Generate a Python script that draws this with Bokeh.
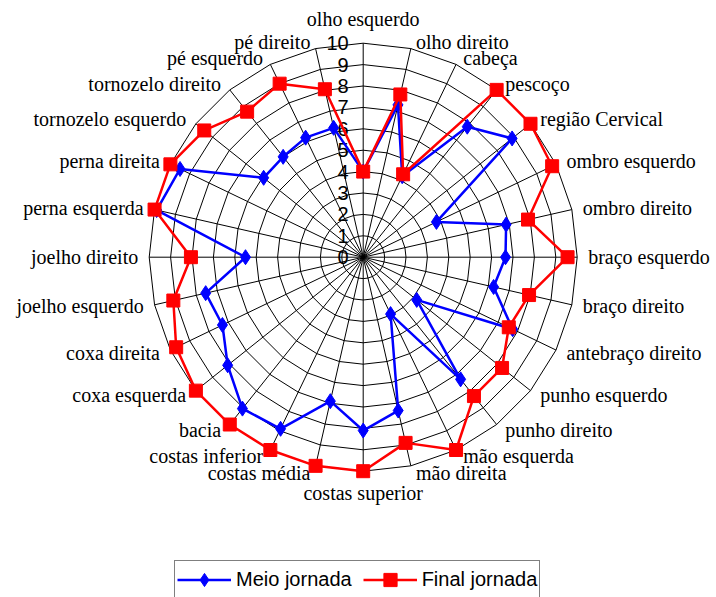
import numpy as np
from bokeh.plotting import figure
from bokeh.models import ColumnDataSource, Legend, LegendItem, Range1d
from bokeh.embed import file_html
from bokeh.resources import INLINE
from bokeh.core.properties import value

categories = ["olho esquerdo", "olho direito", "cabeça", "pescoço", "região Cervical",
              "ombro esquerdo", "ombro direito", "braço esquerdo", "braço direito",
              "antebraço direito", "punho esquerdo", "punho direito", "mão esquerda",
              "mão direita", "costas superior", "costas média", "costas inferior", "bacia",
              "coxa esquerda", "coxa direita", "joelho esquerdo", "joelho direito",
              "perna esquerda", "perna direita", "tornozelo esquerdo", "tornozelo direito",
              "pé esquerdo", "pé direito"]
meio_jornada = [4.0, 7.3, 4.2, 7.8, 8.9, 3.8, 6.85, 6.65, 6.25, 7.75, 3.2, 7.3, 2.95, 7.35,
                8.1, 6.9, 8.9, 9.05, 8.1, 7.3, 7.55, 5.5, 9.9, 9.5, 5.95, 6.0, 6.2, 6.2]
final_jornada = [4.0, 7.8, 4.3, 10.0, 10.0, 9.8, 7.9, 9.55, 7.95, 7.55, 8.3, 8.3, 10.0, 8.9,
                 10.0, 10.0, 10.0, 10.0, 10.0, 9.7, 9.1, 8.05, 10.0, 10.0, 9.5, 8.7, 9.0, 8.05]
tick_values = list(range(0, 11))
series_names = ["Meio jornada", "Final jornada"]

W, H = 716, 597
S = 21.4               # pixels per data unit
CX, CY = 362.7, 256.7  # centre in figure pixels
RMAX = tick_values[-1]

p = figure(width=W, height=H, output_backend="svg", toolbar_location=None,
           x_range=Range1d(-CX / S, (W - CX) / S), y_range=Range1d(-(H - CY) / S, CY / S),
           x_axis_type=None, y_axis_type=None, min_border=0)
p.grid.visible = False
p.outline_line_color = None
p.background_fill_color = "white"
p.border_fill_color = "white"

n = len(categories)
theta = 2 * np.pi * np.arange(n) / n
s, c = np.sin(theta), np.cos(theta)

# polygon grid
xs_grid, ys_grid = [], []
for lv in tick_values[1:]:
    xs_grid.append(list(lv * s) + [lv * s[0]])
    ys_grid.append(list(lv * c) + [lv * c[0]])
p.multi_line(xs_grid, ys_grid, line_color="black", line_width=1)
p.segment(x0=np.zeros(n), y0=np.zeros(n), x1=RMAX * s, y1=RMAX * c,
          line_color="black", line_width=1)

# tick labels
p.text(x=[-14.5 / S] * len(tick_values), y=tick_values, text=[str(t) for t in tick_values],
       text_font=value("Liberation Sans"), text_font_size="20px", text_align="right",
       text_baseline="middle", text_color="black")

# category labels
lx, ly, la = [], [], []
for i in range(n):
    ox, oy = RMAX * s[i], RMAX * c[i]
    if abs(s[i]) < 0.01:
        lx.append(ox)
        ly.append(oy + (24.0 if c[i] > 0 else -22.0) / S)
        la.append("center")
    else:
        dx = 11.0 * np.sqrt(abs(s[i])) / S
        lx.append(ox + dx if s[i] > 0 else ox - dx)
        ly.append(oy + 7.0 * c[i] / S)
        la.append("left" if s[i] > 0 else "right")
p.text(x=lx, y=ly, text=categories, text_align=la, text_baseline="middle",
       text_font=value("Liberation Serif"), text_font_size="20px", text_color="black")

def closed(vals):
    v = np.array(vals)
    return list(v * s) + [v[0] * s[0]], list(v * c) + [v[0] * c[0]]

bx, by = closed(meio_jornada)
rx, ry = closed(final_jornada)
bl = p.line(bx, by, line_color="#0000FF", line_width=2.5)
bm = p.scatter(list(np.array(meio_jornada) * s), list(np.array(meio_jornada) * c),
               marker="diamond", size=15, fill_color="#0000FF", line_color="#0000FF", line_width=1)
rl = p.line(rx, ry, line_color="#FF0000", line_width=2.5)
rm = p.scatter(list(np.array(final_jornada) * s), list(np.array(final_jornada) * c),
               marker="square", size=13, fill_color="#FF0000", line_color="#FF0000", line_width=1)

legend = Legend(items=[LegendItem(label=series_names[0], renderers=[bl, bm]),
                       LegendItem(label=series_names[1], renderers=[rl, rm])],
                orientation="horizontal", location=(174, -2),
                glyph_width=54, glyph_height=33, label_standoff=5, spacing=11,
                padding=2, margin=0, border_line_color="black", border_line_width=1,
                background_fill_color="white", background_fill_alpha=1,
                label_text_font="Liberation Sans", label_text_font_size="20px",
                label_text_color="black")
p.add_layout(legend)

open("out.html", "w").write(file_html(p, INLINE))
